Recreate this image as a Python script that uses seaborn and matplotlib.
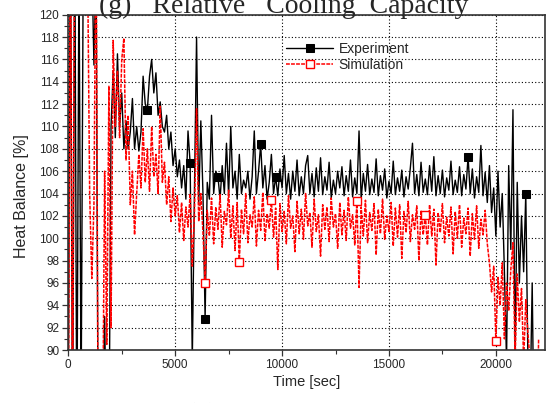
import numpy as np
import pandas as pd
import seaborn as sns
from matplotlib import pyplot as plt
from matplotlib.ticker import MultipleLocator

# time axis, one reading every 100 s
time_sec = np.arange(0, 22100, 100)

experiment = [
    85, 130, 80, 130, 80, 125, 85, 125, 130, 130,
    130, 125, 115.5, 125, 80, 80, 80, 93, 80, 80,
    110, 115, 109, 116.5, 110, 113, 108, 110.5, 108, 109.5,
    112.5, 108, 110, 107.8, 109.5, 114.5, 112, 111.5, 114.5, 116,
    113, 114.8, 111, 112.2, 110, 109.5, 111, 108, 109.5, 106.5,
    108, 105.5, 107, 104.5, 106.5, 103.5, 109.6, 106.7, 89, 104,
    118, 103, 110.5, 104, 92.8, 105, 103.5, 111, 104, 106,
    105.5, 103.5, 106.5, 104, 108.5, 103.8, 110, 104.5, 106, 103.5,
    107.5, 104, 105.2, 104.5, 106, 103.5, 105.5, 109.6, 104, 106,
    108.4, 104.5, 106.5, 103.5, 105, 107.5, 104, 105.5, 103.8, 106.2,
    104.5, 107.4, 104, 105.8, 103.5, 106, 104.2, 107, 103.8, 105.5,
    104, 106.5, 107.4, 104, 105.8, 103.7, 106.3, 104.2, 107.2, 103.9,
    105.5, 104.3, 106.8, 103.6, 105.2, 104, 106, 104.5, 106.4, 103.8,
    105.6, 104.2, 107, 103.7, 105.4, 104, 109.6, 103.5, 105.8, 104.2,
    106.6, 103.9, 105.3, 104.1, 107.1, 103.8, 105.6, 104.3, 106.2, 103.6,
    105.1, 104, 106.9, 103.9, 105.4, 104.2, 106.1, 103.7, 105.5, 104.4,
    106.3, 108.5, 104, 105.7, 103.8, 106.8, 104.1, 105.3, 103.9, 106.5,
    104.2, 107.3, 103.8, 105.6, 104, 106.1, 103.7, 105.4, 104.3, 106.9,
    103.9, 105.2, 104.1, 106.4, 103.8, 105.7, 104.4, 107.3, 104, 106.2,
    103.6, 105.5, 104.1, 108.3, 103.8, 105.9, 103.2, 106.5, 102.3, 104.5,
    100.2, 106, 101, 104, 97, 89, 106.5, 99, 111.5, 89,
    105, 96, 102, 97, 104, 89, 85, 96, 80, np.nan,
    np.nan,
]

simulation = [
    80, 130, 80, 130, 130, 130, 130, 130, 130, 125,
    104, 96.4, 103, 130, 80, 80, 80, 106, 90.5, 113.6,
    92, 117.7, 110, 115, 109, 116, 117.9, 107, 111, 103,
    106, 100.3, 104, 107.5, 104.5, 109.8, 105, 108, 104.2, 110,
    105.5, 107.5, 104, 111.8, 105, 106.8, 103, 105.5, 101.5, 104.5,
    102, 103.8, 100.5, 103.2, 99.8, 102.8, 101, 104, 97.5, 102,
    111.6, 101.5, 104, 100.5, 96, 102.5, 100.2, 103.6, 99.5, 102.8,
    100.8, 103.9, 99.2, 102.4, 101.2, 104.3, 100, 102.9, 98.9, 103.2,
    97.9, 102.6, 100.4, 104, 99.6, 102.1, 101, 103.7, 99.3, 102.5,
    100.7, 104.1, 99.8, 102.2, 100.9, 103.4, 100.1, 102.7, 97.2, 103.1,
    100.6, 102.4, 99.5, 103.8, 100.9, 102, 98.8, 103.3, 100.4, 102.6,
    99.9, 104, 101.1, 102.3, 99.2, 103.5, 100.6, 102.1, 98.4, 103,
    100.8, 102.8, 99.7, 103.6, 101, 102.2, 99.1, 103.2, 100.3, 102.5,
    99.8, 103.7, 100.9, 102.1, 99.4, 103.3, 95.6, 102.8, 100.2, 103.4,
    99.6, 102.3, 100.7, 103.1, 98.5, 102.6, 100.4, 103.5, 99.9, 102,
    100.6, 103.2, 99.3, 102.7, 100.1, 103, 98.2, 102.4, 100.5, 103.3,
    99.7, 102.1, 100.8, 102.9, 98, 102.5, 100.3, 102.1, 99.4, 103,
    100.2, 102.6, 97.6, 102.3, 100.5, 103.1, 99.6, 101.9, 100.2, 102.8,
    98.6, 102.4, 100, 103, 99.2, 101.8, 100.4, 102.7, 98.4, 102.2,
    99.9, 102.9, 99.1, 101.7, 100.3, 102.5, 99.5, 97.8, 95.2, 97.5,
    90.8, 96.5, 94, 97.8, 91, 96, 93.5, 97.2, 99.6, 89,
    96.8, 92.5, 95.5, 89, 94.5, 91.5, 89, np.nan, np.nan, 80,
    91,
]

# which readings carry a symbol
exp_marks = [37, 57, 64, 70, 90, 97, 187, 214]
sim_marks = [64, 80, 95, 135, 167, 200]

df = pd.DataFrame({"time": time_sec, "Experiment": experiment, "Simulation": simulation})

sns.set_theme(style="ticks")
plt.rcParams["font.family"] = ["Liberation Sans", "DejaVu Sans"]

fig = plt.figure(figsize=(5.57, 4.03), dpi=100)
ax = fig.add_axes([0.1226, 0.1315, 0.8559, 0.832])

sns.lineplot(data=df, x="time", y="Experiment", ax=ax, color="black", lw=1.0,
             marker="s", markersize=6, markevery=exp_marks, mec="black", mfc="black",
             label="Experiment", sort=False)
sns.lineplot(data=df, x="time", y="Simulation", ax=ax, color="red", lw=1.1, ls=(0, (2.5, 0.8)),
             marker="s", markersize=6, markevery=sim_marks, mec="red", mfc="white", mew=1.0,
             label="Simulation", sort=False)

ax.set_xlim(0, 22300)
ax.set_ylim(90, 120)
ax.xaxis.set_major_locator(MultipleLocator(5000))
ax.xaxis.set_minor_locator(MultipleLocator(2500))
ax.yaxis.set_major_locator(MultipleLocator(2))
ax.yaxis.set_minor_locator(MultipleLocator(1))
ax.grid(True, which="major", color="black", ls=(0, (1, 2)), lw=0.8)
ax.tick_params(which="major", length=4.5, width=0.9, labelsize=8.5, pad=2, color="#333333")
ax.tick_params(which="minor", length=3, width=0.8, color="#333333")
for s in ax.spines.values():
    s.set_color("#333333")
    s.set_linewidth(1.2)

ax.set_xlabel("Time [sec]", fontsize=10.5, labelpad=3)
ax.set_ylabel("Heat Balance [%]", fontsize=11.5)
ax.yaxis.set_label_coords(-0.083, 0.458)

ax.legend(loc="upper left", bbox_to_anchor=(0.445, 0.935), frameon=False, fontsize=10,
          handlelength=3.4, handletextpad=0.4, labelspacing=0.15, borderaxespad=0, numpoints=1)

fig.text(0.51, 0.9685, "(g)   Relative   Cooling  Capacity", ha="center", va="baseline",
         fontsize=20, family="Liberation Serif")
fig.text(0.515, -0.047, "(h)  Heat  Balance", ha="center", va="baseline",
         fontsize=20, family="Liberation Serif")

fig.savefig("out.png", dpi=100)
